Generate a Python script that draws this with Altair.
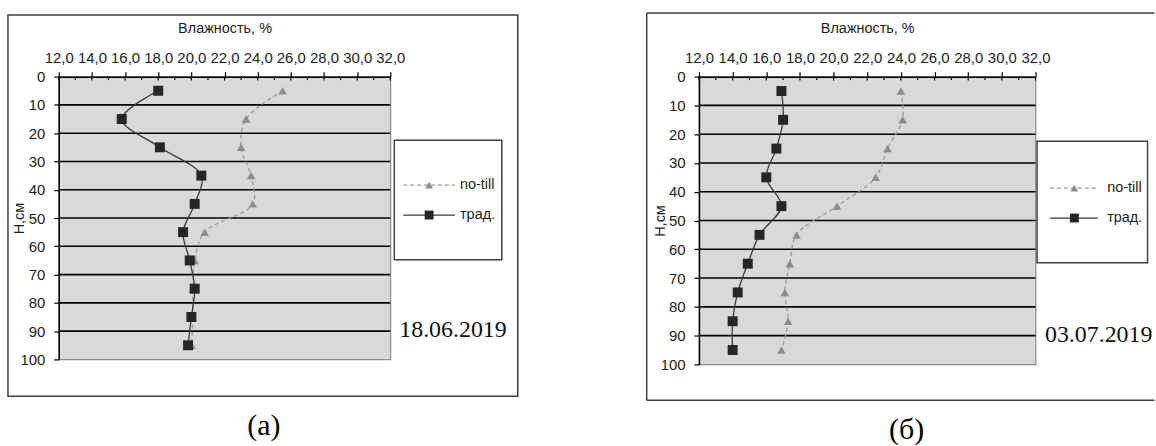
import altair as alt
import pandas as pd

# ---- data ----
depth = [5, 15, 25, 35, 45, 55, 65, 75, 85, 95]
a_notill = [25.5, 23.3, 23.0, 23.6, 23.7, 20.8, 20.2, 20.1, 20.1, 20.0]
a_trad = [18.0, 15.8, 18.1, 20.6, 20.2, 19.5, 19.9, 20.2, 20.0, 19.8]
b_notill = [24.0, 24.1, 23.2, 22.5, 20.2, 17.8, 17.4, 17.1, 17.3, 16.9]
b_trad = [16.9, 17.0, 16.6, 16.0, 16.9, 15.6, 14.9, 14.3, 14.0, 14.0]

x_major = [12, 14, 16, 18, 20, 22, 24, 26, 28, 30, 32]
x_minor = [13, 15, 17, 19, 21, 23, 25, 27, 29, 31]
y_labels = [0, 10, 20, 30, 40, 50, 60, 70, 80, 90, 100]
grid_depths = [10, 20, 30, 40, 50, 60, 70, 80, 90]
series_names = ["no-till", "трад."]
x_title = "Влажность, %"
y_title = "Н,см"

SANS = "Liberation Sans"
SERIF = "Liberation Serif"
TXT = "#1e1e1e"
one = pd.DataFrame({"k": [0]})


def panel(W, H, notill, trad, date, caption, frame, legend, date_pos, cap_x, full_frame):
    xs = alt.Scale(domain=[12, 32], nice=False, zero=False)
    ys = alt.Scale(domain=[0, 100], reverse=True, nice=False)
    ax_x = alt.Axis(
        orient="top", values=x_major, grid=False,
        labelExpr="replace(format(datum.value, '.1f'), '.', ',')",
        labelFont=SANS, labelFontSize=15, labelColor=TXT,
        labelBaseline="middle", labelPadding=14, labelOverlap=False,
        labelFlush=False, labelBound=False,
        tickSize=5, tickColor="black", tickWidth=1.2,
        domainColor="black", domainWidth=1.5,
        title=x_title, titleFont=SANS, titleFontSize=14.5, titleFontWeight="normal",
        titleColor=TXT, titleY=-48, titleX=W / 2, titleAlign="center",
        titleBaseline="middle")
    ax_y = alt.Axis(
        orient="left", values=y_labels, grid=False,
        labelFont=SANS, labelFontSize=15, labelColor=TXT,
        labelPadding=9, labelOverlap=False, labelFlush=False, labelBound=False,
        tickSize=5, tickColor="black", tickWidth=1.2,
        domainColor="black", domainWidth=1.5,
        title=y_title, titleFont=SANS, titleFontSize=14.5, titleFontWeight="normal",
        titleColor=TXT, titleAngle=-90, titleX=-39, titleY=H / 2,
        titleAlign="center", titleBaseline="middle")

    def X(f):
        return alt.X(f, scale=xs, axis=ax_x)

    def Y(f):
        return alt.Y(f, scale=ys, axis=ax_y)

    df = pd.DataFrame({
        "depth": depth * 2,
        "value": notill + trad,
        "series": [series_names[0]] * len(depth) + [series_names[1]] * len(depth),
    })
    d_nt = df[df.series == series_names[0]]
    d_tr = df[df.series == series_names[1]]

    fx1, fx2, fy1, fy2 = frame
    layers = []
    if full_frame:
        layers.append(
            alt.Chart(one).mark_rect(fillOpacity=0, stroke="#404040", strokeWidth=1.5).encode(
                x=alt.value(fx1), x2=alt.value(fx2), y=alt.value(fy1), y2=alt.value(fy2))
        )
    else:
        for (a, b, c, d) in [(fx1, fx2, fy1, fy1), (fx1, fx2, fy2, fy2), (fx1, fx1, fy1, fy2)]:
            layers.append(
                alt.Chart(one).mark_rule(color="#404040", strokeWidth=1.5).encode(
                    x=alt.value(a), x2=alt.value(b), y=alt.value(c), y2=alt.value(d))
            )

    grid = alt.Chart(pd.DataFrame({"value": [20.0] * len(grid_depths), "depth": grid_depths})).mark_rule(
        color="black", strokeWidth=1.6).encode(
        y=Y("depth:Q"), x=alt.value(0), x2=alt.value(W))

    nt_line = alt.Chart(d_nt).mark_line(
        color="#9a9a9a", strokeWidth=1.3, strokeDash=[4, 3], interpolate="catmull-rom").encode(
        x=X("value:Q"), y=Y("depth:Q"), order=alt.Order("depth:Q"))
    nt_pts = alt.Chart(d_nt).mark_point(
        shape="triangle-up", filled=True, color="#8c8c8c", size=75, opacity=1).encode(
        x=X("value:Q"), y=Y("depth:Q"))
    tr_line = alt.Chart(d_tr).mark_line(
        color="#3a3a3a", strokeWidth=1.3, interpolate="catmull-rom").encode(
        x=X("value:Q"), y=Y("depth:Q"), order=alt.Order("depth:Q"))
    tr_pts = alt.Chart(d_tr).mark_point(
        shape="square", filled=True, color="#262626", size=100, opacity=1).encode(
        x=X("value:Q"), y=Y("depth:Q"))

    maj_in = alt.Chart(pd.DataFrame({"value": x_major})).mark_rule(color="black", strokeWidth=1.2).encode(
        x=X("value:Q"), y=alt.value(0), y2=alt.value(4))
    min_in = alt.Chart(pd.DataFrame({"value": x_minor})).mark_rule(color="black", strokeWidth=1.2).encode(
        x=X("value:Q"), y=alt.value(0), y2=alt.value(3.5))

    lx1, lx2, ly1, ly2, seg1, seg2, mk, tx, yn, yt = legend
    leg = [
        alt.Chart(one).mark_rect(fill="white", stroke="#404040", strokeWidth=1.5).encode(
            x=alt.value(lx1), x2=alt.value(lx2), y=alt.value(ly1), y2=alt.value(ly2)),
        alt.Chart(one).mark_rule(color="#9a9a9a", strokeWidth=1.3, strokeDash=[4, 3]).encode(
            x=alt.value(seg1), x2=alt.value(seg2), y=alt.value(yn)),
        alt.Chart(one).mark_point(shape="triangle-up", filled=True, color="#8c8c8c", size=60, opacity=1).encode(
            x=alt.value(mk), y=alt.value(yn)),
        alt.Chart(one).mark_text(text=series_names[0], font=SANS, fontSize=14.5, align="left",
                                 baseline="middle", color=TXT).encode(
            x=alt.value(tx), y=alt.value(yn)),
        alt.Chart(one).mark_rule(color="#3a3a3a", strokeWidth=1.3).encode(
            x=alt.value(seg1), x2=alt.value(seg2), y=alt.value(yt)),
        alt.Chart(one).mark_point(shape="square", filled=True, color="#262626", size=80, opacity=1).encode(
            x=alt.value(mk), y=alt.value(yt)),
        alt.Chart(one).mark_text(text=series_names[1], font=SANS, fontSize=14.5, align="left",
                                 baseline="middle", color=TXT).encode(
            x=alt.value(tx), y=alt.value(yt)),
    ]

    date_txt = alt.Chart(one).mark_text(text=date, font=SERIF, fontSize=24, align="left",
                                        baseline="middle", color="#111").encode(
        x=alt.value(date_pos[0]), y=alt.value(date_pos[1]))
    cap_txt = alt.Chart(one).mark_text(text=caption, font=SERIF, fontSize=30, align="center",
                                       baseline="middle", color="black").encode(
        x=alt.value(cap_x), y=alt.value(fy2 + 30))

    return alt.layer(*layers, grid, nt_line, nt_pts, tr_line, tr_pts, maj_in, min_in,
                     *leg, date_txt, cap_txt).properties(width=W, height=H)


left = panel(333, 284, a_notill, a_trad, "18.06.2019", "(а)",
             frame=(-51, 461, -62, 321),
             legend=(337, 445, 64, 184, 346, 398, 372, 403, 109, 139),
             date_pos=(342, 254), cap_x=206, full_frame=True)
right = panel(338, 289, b_notill, b_trad, "03.07.2019", "(б)",
              frame=(-52.5, 457.5, -64, 325),
              legend=(339.5, 450.5, 65, 187, 352.5, 400.5, 377, 410, 112, 142),
              date_pos=(347.5, 260), cap_x=208.5, full_frame=False)

chart = alt.hconcat(left, right, spacing=126).properties(
    padding={"left": 6, "top": 10, "right": 0, "bottom": 0}
).configure_view(fill="#d9d9d9", stroke="#8c8c8c", strokeWidth=1.2)

chart.save("out.html", embed_options={"renderer": "svg", "actions": False})
